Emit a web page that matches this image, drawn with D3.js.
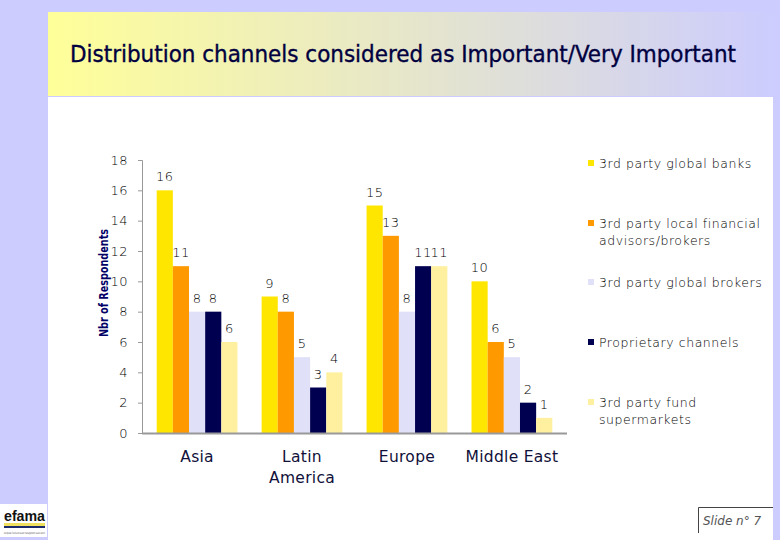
<!DOCTYPE html>
<html><head><meta charset="utf-8">
<script src="https://cdn.jsdelivr.net/npm/d3@7"></script>
<style>body{margin:0;padding:0;background:#ccccff;overflow:hidden}</style>
</head><body>
<script>
const categories = ["Asia", "Latin\nAmerica", "Europe", "Middle East"];
const seriesNames = ["3rd party global banks", "3rd party local financial\nadvisors/brokers", "3rd party global brokers", "Proprietary channels", "3rd party fund\nsupermarkets"];
const globalBanks = [16, 9, 15, 10];
const localAdvisors = [11, 8, 13, 6];
const globalBrokers = [8, 5, 8, 5];
const proprietary = [8, 3, 11, 2];
const fundSupermarkets = [6, 4, 11, 1];
const yTicks = [0, 2, 4, 6, 8, 10, 12, 14, 16, 18];
const colors = ["#ffe600", "#ff9900", "#e0e0f8", "#000050", "#fff0a0"];
const seriesValues = [globalBanks, localAdvisors, globalBrokers, proprietary, fundSupermarkets];

const W = 780, H = 540;
const svg = d3.select("body").append("svg").attr("width", W).attr("height", H);
const defs = svg.append("defs");
const grad = defs.append("linearGradient").attr("id", "tg").attr("x1", "0").attr("x2", "1").attr("y1", "0").attr("y2", "0");
grad.append("stop").attr("offset", "0").attr("stop-color", "#ffff99");
grad.append("stop").attr("offset", "1").attr("stop-color", "#ccccff");

svg.append("rect").attr("width", W).attr("height", H).attr("fill", "#ccccff");
svg.append("rect").attr("x", 48).attr("y", 12).attr("width", 732).attr("height", 84).attr("fill", "url(#tg)");
svg.append("rect").attr("x", 48).attr("y", 97).attr("width", 725).attr("height", 443).attr("fill", "#ffffff");

svg.append("text").attr("x", 70).attr("y", 62)
  .attr("font-family", "DejaVu Sans Condensed, DejaVu Sans, sans-serif").attr("font-size", 23.5)
  .attr("fill", "#000040").attr("stroke", "#000040").attr("stroke-width", 0.35)
  .attr("textLength", 666).attr("lengthAdjust", "spacingAndGlyphs")
  .text("Distribution channels considered as Important/Very Important");

const x0 = d3.scaleBand().domain(categories).range([142, 567]).paddingInner(0.23).paddingOuter(0.14);
const x1 = d3.scaleBand().domain(d3.range(seriesNames.length)).range([0, x0.bandwidth()]);
const y = d3.scaleLinear().domain([0, 18]).range([433, 160]);

const font = "DejaVu Sans, Verdana, sans-serif";
const thin = 300;

// y axis
const yAxis = svg.append("g").attr("transform", "translate(142,0)")
  .call(d3.axisLeft(y).tickValues(yTicks).tickSize(4).tickPadding(10).tickFormat(d3.format("d")));
yAxis.select(".domain").attr("stroke", "#999").attr("stroke-width", 1);
yAxis.selectAll(".tick line").attr("stroke", "#999");
yAxis.selectAll(".tick text").attr("font-family", font).attr("font-weight", thin).attr("font-size", 13).attr("fill", "#000")
  .attr("letter-spacing", 0.5);

svg.append("text").attr("transform", "translate(108,283) rotate(-90)")
  .attr("text-anchor", "middle").attr("font-family", "DejaVu Sans Condensed, DejaVu Sans, sans-serif").attr("font-weight", "bold")
  .attr("font-size", 13).attr("fill", "#000066").attr("textLength", 108).attr("lengthAdjust", "spacingAndGlyphs")
  .text("Nbr of Respondents");

// bars
const groups = svg.append("g").selectAll("g").data(categories).join("g")
  .attr("transform", d => `translate(${x0(d)},0)`);
groups.each(function(cat, ci) {
  const g = d3.select(this);
  const vals = seriesValues.map((s, si) => ({si, v: s[ci]}));
  g.selectAll("rect").data(vals).join("rect")
    .attr("x", d => x1(d.si)).attr("width", x1.bandwidth())
    .attr("y", d => y(d.v)).attr("height", d => y(0) - y(d.v))
    .attr("fill", d => colors[d.si]);
  g.selectAll("text").data(vals).join("text")
    .attr("x", d => x1(d.si) + x1.bandwidth() / 2).attr("y", d => y(d.v) - 9)
    .attr("text-anchor", "middle").attr("font-family", font).attr("font-weight", thin).attr("font-size", 13).attr("fill", "#000")
    .attr("letter-spacing", 0.5)
    .text(d => d.v);
});

// x axis line
svg.append("line").attr("x1", 142).attr("x2", 567).attr("y1", 433.5).attr("y2", 433.5)
  .attr("stroke", "#999").attr("stroke-width", 2);

// category labels
categories.forEach(c => {
  const t = svg.append("text").attr("text-anchor", "middle").attr("font-family", font)
    .attr("font-size", 15.5).attr("fill", "#10103a").attr("letter-spacing", 0.3);
  c.split("\n").forEach((line, i) => {
    t.append("tspan").attr("x", x0(c) + x0.bandwidth() / 2).attr("y", 462 + i * 21).text(line);
  });
});

// legend
const legendY = [164, 224, 283, 343, 403];
seriesNames.forEach((n, i) => {
  svg.append("rect").attr("x", 588).attr("y", legendY[i] - 4).attr("width", 6).attr("height", 6).attr("fill", colors[i]);
  const t = svg.append("text").attr("font-family", font).attr("font-weight", thin).attr("font-size", 12.5).attr("fill", "#000")
    .attr("letter-spacing", 0.55);
  n.split("\n").forEach((line, j) => {
    t.append("tspan").attr("x", 599).attr("y", legendY[i] + 4 + j * 17).text(line);
  });
});

// logo
svg.append("rect").attr("x", 0).attr("y", 504).attr("width", 47).attr("height", 33).attr("fill", "#ffffff");
svg.append("text").attr("x", 4).attr("y", 521).attr("font-family", "Liberation Sans, Arial, sans-serif")
  .attr("font-weight", "bold").attr("font-size", 14).attr("fill", "#111").attr("textLength", 41).attr("lengthAdjust", "spacingAndGlyphs").text("efama");
svg.append("rect").attr("x", 4).attr("y", 523).attr("width", 41).attr("height", 3).attr("fill", "#f0e060");
svg.append("rect").attr("x", 4).attr("y", 526).attr("width", 41).attr("height", 2).attr("fill", "#1a2a6a");
svg.append("text").attr("x", 4).attr("y", 534).attr("font-family", font).attr("font-size", 3).attr("fill", "#555")
  .attr("textLength", 41).attr("lengthAdjust", "spacingAndGlyphs").text("european fund and asset management association");

// slide number
svg.append("path").attr("d", "M698.5,533 V507.5 H773").attr("fill", "none").attr("stroke", "#444").attr("stroke-width", 1);
svg.append("text").attr("x", 703).attr("y", 525).attr("font-family", font).attr("font-style", "italic").attr("font-weight", thin)
  .attr("font-size", 12).attr("fill", "#555").text("Slide n° 7");
</script>
</body></html>
